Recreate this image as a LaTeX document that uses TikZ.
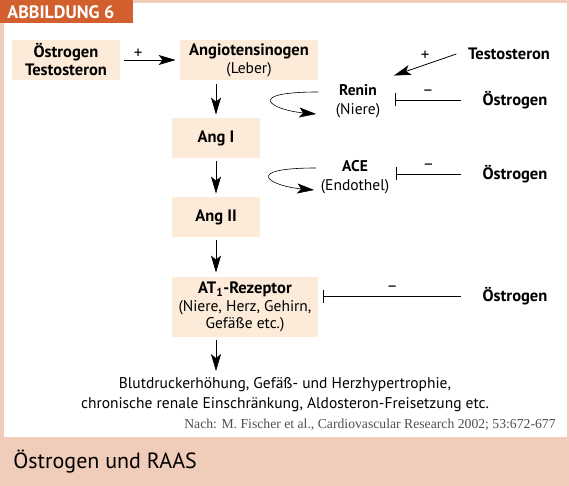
\documentclass[tikz,border=0pt]{standalone}
\usepackage{fontspec}
\setmainfont{PT Sans}
\newfontfamily\quellfont{Liberation Serif}
\usetikzlibrary{positioning,calc,arrows.meta}
\definecolor{rahmen}{HTML}{F0CCBA}
\definecolor{kasten}{HTML}{FCEBD8}
\definecolor{titel}{HTML}{D2602F}
\definecolor{quelle}{HTML}{505050}

\begin{document}
\begin{tikzpicture}[x=1pt,y=-1pt,line width=0.8pt,node distance=79pt,on grid]
\tikzset{>={Stealth[length=17pt,width=10pt,inset=4pt]}}
\tikzset{hemmt/.style={-{Bar[width=13pt]}},
  kastenbox/.style={fill=kasten,align=center,inner sep=0pt,minimum height=40pt,
    font=\bfseries\fontsize{16.5}{18}\selectfont},
  fett/.style={font=\bfseries\fontsize{16.5}{18}\selectfont},
  normal/.style={font=\fontsize{15.5}{19}\selectfont,align=center},
  zeichen/.style={font=\fontsize{17}{18}\selectfont,inner sep=1pt}}
% Rahmen
\useasboundingbox (0,0) rectangle (569,486);
\fill[rahmen] (0,0) rectangle (569,486);
\fill[white] (4,3) rectangle (567,437);
\fill[titel] (0,0) rectangle (133,23);
\node[anchor=west,text=white,font=\bfseries\fontsize{18}{20}\selectfont,inner sep=0pt] (kopf) at (7,12) {ABBILDUNG 6};
\node[anchor=west,inner sep=0pt,font=\fontsize{22}{25}\selectfont] (unterschrift) at (13,462) {Östrogen und RAAS};
% Kaskade
\node[kastenbox,minimum width=108pt] (hormone) at (66,60) {Östrogen\\Testosteron};
\node[kastenbox,minimum width=138pt] (angt) at (249,60) {Angiotensinogen\\{\mdseries\fontsize{15.5}{18}\selectfont(Leber)}};
\node[kastenbox,minimum width=88pt] (angI) at (216,138) {Ang I};
\node[kastenbox,minimum width=88pt] (angII) [below=of angI] {Ang II};
\node[kastenbox,minimum width=146pt,minimum height=60pt,font=\bfseries\fontsize{16.5}{17.5}\selectfont] (at1) at (245,307)
     {AT\textsubscript{1}-Rezeptor\\{\mdseries\fontsize{15.5}{17.5}\selectfont(Niere, Herz, Gehirn,}\\{\mdseries\fontsize{15.5}{17.5}\selectfont Gefäße etc.)}};
\node[normal,font=\fontsize{15.5}{20}\selectfont] (folgen) at (285,395)
     {Blutdruckerhöhung, Gefäß- und Herzhypertrophie,\\chronische renale Einschränkung, Aldosteron-Freisetzung etc.};
\node[anchor=east,text=quelle,font=\quellfont\fontsize{13.7}{15}\selectfont,inner sep=0pt] (quelle) at (556,425)
     {Nach: M. Fischer et al., Cardiovascular Research 2002; 53:672-677};
% Enzyme
\node[normal] (renin) at (358,101) {\textbf{Renin}\\(Niere)};
\node[normal] (ace) at (355,177) {\textbf{ACE}\\(Endothel)};
% rechte Spalte
\node[fett] (testo) at (509,54) {Testosteron};
\node[fett] (oeI) at (515,100) {Östrogen};
\node[fett] (oeII) at (515,174) {Östrogen};
\node[fett] (oeIII) at (515,296) {Östrogen};

\path[->] (hormone) edge[shorten <=4pt,shorten >=4pt] node[above,zeichen,pos=.3] {+} (angt);
\draw[->,shorten <=4pt,shorten >=3pt] (angI.north |- angt.south) -- (angI);
\draw[->,shorten <=3pt,shorten >=3pt] (angI) -- (angII);
\draw[->,shorten <=3pt,shorten >=4pt] (angII) -- (angII.south |- at1.north);
\coordinate (pfeilende) at ($(angII |- folgen.north)+(0,-3)$);
\draw[->,shorten <=3pt] (angII |- at1.south) -- (pfeilende);

% Schleifen
\draw[->,line width=0.6pt] ($(renin.west)+(-14,-9)$) .. controls +(-75,0) and +(-45,-4) .. ($(renin.west)+(-16,13)$);
\draw[->,line width=0.6pt] ($(ace.west)+(-1,-9)$) .. controls +(-75,0) and +(-45,-4) .. ($(ace.west)+(-3,13)$);

% Einfluss der Hormone
\draw[->] ([xshift=-8pt]testo.west) -- ($(renin.north east)+(10,-5)$) node[midway,above=3pt,zeichen] {+};
\draw[hemmt] ([xshift=-18pt]oeI.west) -- ($(oeI.west -| renin.east)+(11,0)$) node[midway,above=3pt,zeichen] {–};
\draw[hemmt] ([xshift=-18pt]oeII.west) -- ($(oeII.west -| ace.east)+(3,0)$) node[midway,above=3pt,zeichen] {–};
\draw[hemmt] ([xshift=-18pt]oeIII.west) -- ($(oeIII.west -| at1.east)+(5,0)$) node[midway,above=3pt,zeichen] {–};
\end{tikzpicture}
\end{document}
